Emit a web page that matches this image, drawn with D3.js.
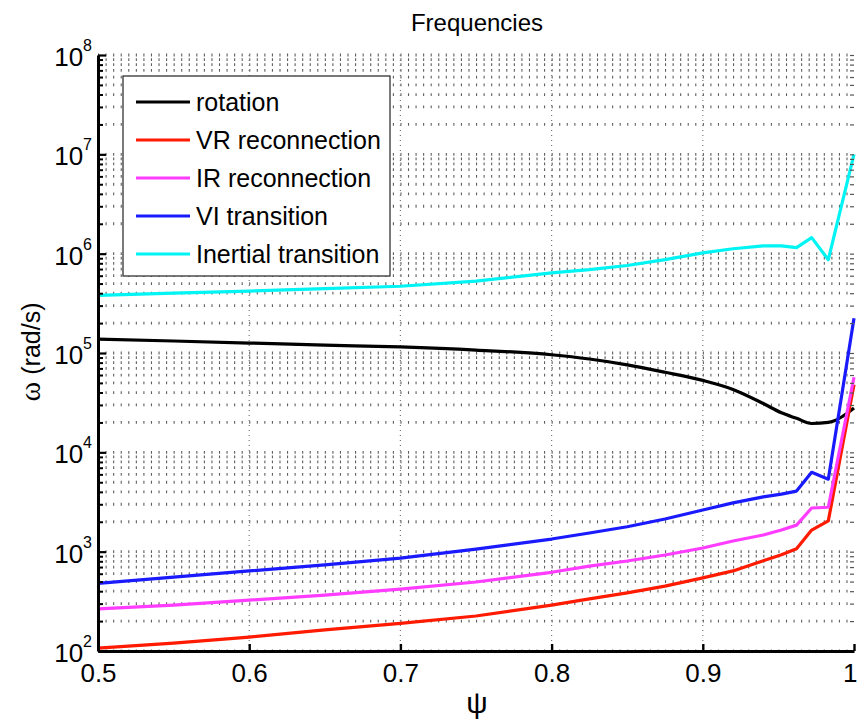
<!DOCTYPE html>
<html>
<head>
<meta charset="utf-8">
<script src="https://cdn.jsdelivr.net/npm/d3@7"></script>
<style>
  html, body { margin: 0; padding: 0; background: #fff; }
  svg { display: block; }
  text { font-family: "Liberation Sans", Arial, Helvetica, sans-serif; fill: #000; }
</style>
</head>
<body>
<svg id="chart" width="857" height="719"></svg>
<script>
// Normalised flux coordinate ψ at which each frequency was evaluated
const psi = [0.5, 0.55, 0.6, 0.65, 0.7, 0.75, 0.8, 0.825, 0.85, 0.875, 0.9, 0.92, 0.94, 0.952, 0.962, 0.972, 0.983, 1.0];

// Frequencies ω in rad/s
const rotation = [1.38e5, 1.32e5, 1.26e5, 1.20e5, 1.15e5, 1.07e5, 9.6e4, 8.7e4, 7.6e4, 6.4e4, 5.3e4, 4.3e4, 3.1e4, 2.5e4, 2.2e4, 1.95e4, 2.0e4, 2.8e4];
const vrReconnection = [107, 120, 138, 163, 190, 225, 290, 335, 385, 450, 545, 640, 810, 930, 1070, 1650, 2040, 4.8e4];
const irReconnection = [265, 290, 325, 365, 420, 495, 620, 715, 805, 925, 1090, 1280, 1470, 1650, 1850, 2750, 2800, 5.7e4];
const viTransition = [480, 555, 640, 735, 860, 1060, 1340, 1540, 1780, 2130, 2630, 3100, 3560, 3800, 4070, 6300, 5370, 2.24e5];
const inertialTransition = [3.8e5, 4.0e5, 4.2e5, 4.45e5, 4.7e5, 5.3e5, 6.4e5, 6.9e5, 7.6e5, 8.7e5, 1.02e6, 1.12e6, 1.2e6, 1.2e6, 1.15e6, 1.45e6, 8.7e5, 1.0e7];

const seriesNames = ["rotation", "VR reconnection", "IR reconnection", "VI transition", "Inertial transition"];
const seriesValues = [rotation, vrReconnection, irReconnection, viTransition, inertialTransition];
const seriesColors = ["#000000", "#ff1a00", "#ff3cff", "#1a1aff", "#00f4f4"];

const xTicks = [0.5, 0.6, 0.7, 0.8, 0.9, 1.0];
const yDecades = [2, 3, 4, 5, 6, 7, 8];

const svg = d3.select("#chart");
const plotLeft = 98, plotRight = 854, plotTop = 55, plotBottom = 651;

const x = d3.scaleLinear().domain([0.5, 1.0]).range([plotLeft, plotRight]);
const y = d3.scaleLog().domain([1e2, 1e8]).range([plotBottom, plotTop]);

// every log tick value: 1..9 × 10^k plus the top decade
const logTicks = [];
for (let k = 2; k < 8; k++) for (let m = 1; m <= 9; m++) logTicks.push(m * Math.pow(10, k));
logTicks.push(1e8);
const decadeVals = yDecades.map(k => Math.pow(10, k));
const minorVals = logTicks.filter(v => !decadeVals.includes(v));

// dotted grid
const grid = svg.append("g");
grid.selectAll("line.h").data(logTicks).join("line")
  .attr("x1", plotLeft).attr("x2", plotRight)
  .attr("y1", d => y(d)).attr("y2", d => y(d))
  .attr("stroke", "#5e5e5e").attr("stroke-width", 2.8)
  .attr("stroke-dasharray", "1.1 6.46");
grid.selectAll("line.v").data(xTicks.slice(1, -1)).join("line")
  .attr("x1", d => x(d)).attr("x2", d => x(d))
  .attr("y1", plotTop).attr("y2", plotBottom)
  .attr("stroke", "#777").attr("stroke-width", 1.2)
  .attr("stroke-dasharray", "1 4");

// curves: rotation is a smooth profile, the others keep their corners
const lineLinear = d3.line()
  .x((d, i) => x(psi[i]))
  .y(d => y(d));
const lineSmooth = d3.line()
  .curve(d3.curveMonotoneX)
  .x((d, i) => x(psi[i]))
  .y(d => y(d));
svg.append("g").selectAll("path").data(seriesValues).join("path")
  .attr("d", (d, i) => i === 0 ? lineSmooth(d) : lineLinear(d))
  .attr("fill", "none")
  .attr("stroke", (d, i) => seriesColors[i])
  .attr("stroke-width", 3.2)
  .attr("stroke-linejoin", "round");

// left axis: decade ticks and minor ticks pointing inward
const leftAxis = svg.append("g").attr("transform", `translate(${plotLeft},0)`)
  .call(d3.axisLeft(y).tickValues(decadeVals).tickSizeInner(-8).tickSizeOuter(0).tickFormat(""));
leftAxis.call(g => g.select(".domain").attr("stroke", "#000").attr("stroke-width", 3));
leftAxis.selectAll(".tick line").attr("stroke-width", 2.2);
svg.append("g").attr("transform", `translate(${plotLeft},0)`)
  .call(d3.axisLeft(y).tickValues(minorVals).tickSizeInner(-5).tickSizeOuter(0).tickFormat(""))
  .call(g => g.select(".domain").remove())
  .selectAll(".tick line").attr("stroke-width", 2);

// right side ticks only
svg.append("g").attr("transform", `translate(${plotRight},0)`)
  .call(d3.axisRight(y).tickValues(logTicks).tickSizeInner(-4).tickSizeOuter(0).tickFormat(""))
  .call(g => g.select(".domain").remove())
  .selectAll(".tick line").attr("stroke", "#555").attr("stroke-width", 1.2);

// decade labels 10^k
const yLab = svg.append("g");
yDecades.forEach(k => {
  const t = yLab.append("text")
    .attr("x", 92).attr("y", y(Math.pow(10, k)) + 11)
    .attr("text-anchor", "end");
  t.append("tspan").attr("font-size", 26).text("10");
  t.append("tspan").attr("font-size", 16).attr("dy", -15).text(k);
});

// bottom axis
const bottomAxis = svg.append("g").attr("transform", `translate(0,${plotBottom})`)
  .call(d3.axisBottom(x).tickValues(xTicks).tickSizeInner(-7).tickSizeOuter(0)
    .tickFormat(d => d === 1 ? "1" : d3.format(".1f")(d)));
bottomAxis.select(".domain").attr("stroke", "#000").attr("stroke-width", 3);
bottomAxis.selectAll(".tick line").attr("stroke-width", 2.4);
bottomAxis.selectAll(".tick text")
  .attr("font-family", "Liberation Sans, Arial, sans-serif")
  .attr("font-size", 26).attr("fill", "#000")
  .attr("y", 0).attr("dy", 31);
// keep the last label inside the canvas
bottomAxis.selectAll(".tick text").filter(d => d === 1)
  .attr("text-anchor", "end").attr("x", 3);

// title and axis labels
svg.append("text").attr("x", 477).attr("y", 31).attr("text-anchor", "middle")
  .attr("font-size", 24).text("Frequencies");
svg.append("text").attr("x", 477).attr("y", 713).attr("text-anchor", "middle")
  .attr("font-family", "Liberation Serif, Times New Roman, serif")
  .attr("font-size", 30).text("ψ");
const yl = svg.append("text")
  .attr("transform", "translate(40,352) rotate(-90)")
  .attr("text-anchor", "middle").attr("font-size", 25);
yl.append("tspan").attr("font-family", "Liberation Serif, Times New Roman, serif").attr("font-size", 30).text("ω");
yl.append("tspan").text(" (rad/s)");

// legend
const lg = svg.append("g");
lg.append("rect").attr("x", 123).attr("y", 76).attr("width", 267).attr("height", 200)
  .attr("fill", "#fff").attr("stroke", "#333").attr("stroke-width", 1.3);
seriesNames.forEach((name, i) => {
  const cy = 102 + i * 38;
  lg.append("line").attr("x1", 136).attr("x2", 190).attr("y1", cy).attr("y2", cy)
    .attr("stroke", seriesColors[i]).attr("stroke-width", 3.2);
  lg.append("text").attr("x", 196).attr("y", cy + 9).attr("font-size", 25).text(name);
});
</script>
</body>
</html>
